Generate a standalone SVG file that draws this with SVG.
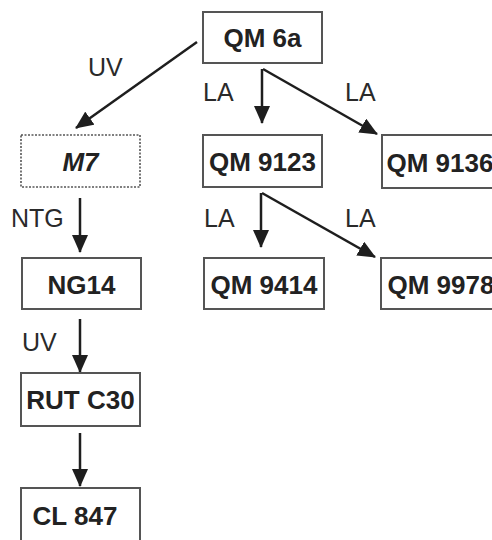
<svg xmlns="http://www.w3.org/2000/svg" width="492" height="540" viewBox="0 0 492 540">
<defs>
<marker id="ah" viewBox="0 0 18 16" refX="17" refY="8" markerWidth="18" markerHeight="16" markerUnits="userSpaceOnUse" orient="auto">
<path d="M0,0 L18,8 L0,16 Z" fill="#1e1e1e"/>
</marker>
<style>
.box{fill:#fff;stroke:#555;stroke-width:2}
.dot{fill:#fff;stroke:#555;stroke-width:1.6;stroke-dasharray:2 1.5}
.nt{font-family:"Liberation Sans",Arial,sans-serif;font-weight:bold;font-size:26px;fill:#222;text-anchor:middle}
.lb{font-family:"Liberation Sans",Arial,sans-serif;font-size:25px;fill:#2a2a2a}
.ed{fill:none;stroke:#1e1e1e;stroke-width:2.5;marker-end:url(#ah)}
</style>
</defs>
<rect width="492" height="540" fill="#fff"/>
<g id="connectors">
<line class="ed" x1="197" y1="42" x2="76" y2="128"/>
<polyline class="ed" points="262,69 262,123"/>
<polyline class="ed" points="263,69 377,134"/>
<line class="ed" x1="80" y1="198" x2="80" y2="252"/>
<line class="ed" x1="261" y1="193" x2="261" y2="247"/>
<line class="ed" x1="262" y1="193" x2="375" y2="257"/>
<line class="ed" x1="80" y1="319" x2="80" y2="372"/>
<line class="ed" x1="80" y1="433" x2="80" y2="486"/>
<text class="lb" x="88" y="76">UV</text>
<text class="lb" x="203" y="101">LA</text>
<text class="lb" x="345" y="101">LA</text>
<text class="lb" x="11" y="227">NTG</text>
<text class="lb" x="204" y="227">LA</text>
<text class="lb" x="345" y="227">LA</text>
<text class="lb" x="22" y="351">UV</text>
</g>
<g id="qm6a"><rect class="box" x="203" y="12" width="119" height="51"/><text class="nt" x="262.5" y="47">QM 6a</text></g>
<g id="m7"><rect class="dot" x="21" y="135" width="119" height="52"/><text class="nt" x="80.5" y="171" font-style="italic">M7</text></g>
<g id="qm9123"><rect class="box" x="203" y="135" width="119" height="52"/><text class="nt" x="262.5" y="171">QM 9123</text></g>
<g id="qm9136"><rect class="box" x="382" y="135" width="119" height="53"/><text class="nt" x="440" y="172">QM 9136</text></g>
<g id="ng14"><rect class="box" x="22" y="258" width="119" height="51"/><text class="nt" x="81.5" y="294">NG14</text></g>
<g id="qm9414"><rect class="box" x="204" y="258" width="120" height="51"/><text class="nt" x="264" y="294">QM 9414</text></g>
<g id="qm9978"><rect class="box" x="381" y="258" width="120" height="51"/><text class="nt" x="441" y="294">QM 9978</text></g>
<g id="rutc30"><rect class="box" x="21" y="373" width="119" height="53"/><text class="nt" x="80.5" y="409">RUT C30</text></g>
<g id="cl847"><rect class="box" x="21" y="488" width="119" height="60"/><text class="nt" x="75" y="525">CL 847</text></g>
</svg>
